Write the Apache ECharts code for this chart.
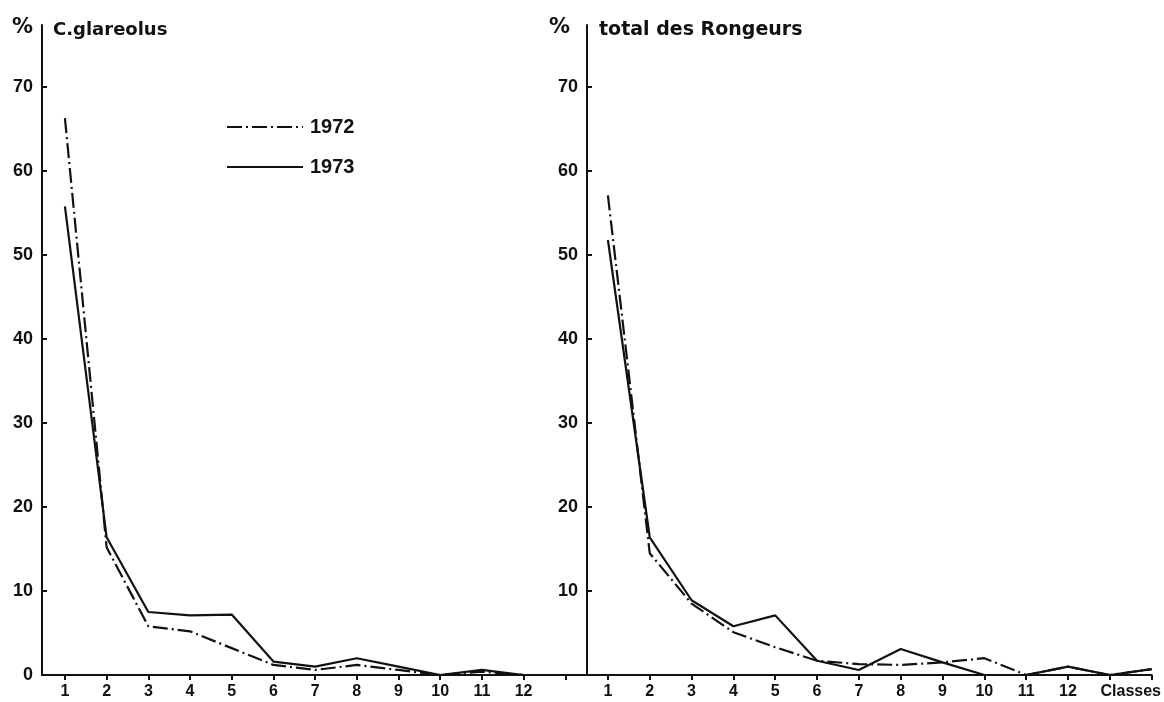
<!DOCTYPE html>
<html style="height: 100%">
<head>
	<meta charset="utf-8">
	<script src="https://cdn.jsdelivr.net/npm/echarts@6/dist/echarts.min.js"></script>
</head>
<body style="height: 100%; margin: 0; background: #fff">
	<div id="container" style="width: 1164px; height: 702px"></div>
	<script type="text/javascript">

var classesLeft = [1, 2, 3, 4, 5, 6, 7, 8, 9, 10, 11, 12];
var glareolus1972 = [66.3, 15.2, 5.8, 5.2, 3.2, 1.2, 0.6, 1.2, 0.6, 0, 0.4, 0];
var glareolus1973 = [55.8, 16.4, 7.5, 7.1, 7.2, 1.6, 1.0, 2.0, 1.0, 0, 0.6, 0];

var classesRight = [1, 2, 3, 4, 5, 6, 7, 8, 9, 10, 11, 12, 13, 14];
var rongeurs1972 = [57.1, 14.5, 8.5, 5.1, 3.3, 1.7, 1.3, 1.2, 1.5, 2.0, 0, 1.0, 0, 0.7];
var rongeurs1973 = [51.8, 16.4, 8.9, 5.8, 7.1, 1.7, 0.6, 3.1, 1.5, 0, 0, 1.0, 0, 0.7];

var yTicksLeft = [0, 10, 20, 30, 40, 50, 60, 70];
var yTicksRight = [10, 20, 30, 40, 50, 60, 70];
var xTicksLeft = [1, 2, 3, 4, 5, 6, 7, 8, 9, 10, 11, 12, 13];
var xLabelsLeft = [1, 2, 3, 4, 5, 6, 7, 8, 9, 10, 11, 12];
var xTicksRight = [1, 2, 3, 4, 5, 6, 7, 8, 9, 10, 11, 12, 13, 14];
var xLabelsRight = [1, 2, 3, 4, 5, 6, 7, 8, 9, 10, 11, 12, 13.5];
var classesLabel = 'Classes';
var years = ['1972', '1973'];

var ink = '#111';
var numFont = '"Liberation Sans", Arial, sans-serif';
var titleFont = '"DejaVu Sans", sans-serif';

function pairs(xs, ys) {
	var out = [], i;
	for (i = 0; i < xs.length; i++) {
		out.push([xs[i], ys[i]]);
	}
	return out;
}

function xAxis(gridIndex, min, max, ticks, labels) {
	return {
		type: 'value',
		gridIndex: gridIndex,
		min: min,
		max: max,
		axisLine: { lineStyle: { color: ink, width: 2 } },
		axisTick: { show: true, inside: false, length: 5, customValues: ticks, lineStyle: { color: ink, width: 2 } },
		axisLabel: {
			customValues: labels,
			margin: 9,
			color: ink,
			fontSize: 16,
			fontWeight: 'bold',
			fontFamily: numFont,
			formatter: function (v) {
				return v === 13.5 ? classesLabel : String(v);
			}
		},
		splitLine: { show: false }
	};
}

function yAxis(gridIndex, ticks) {
	return {
		type: 'value',
		gridIndex: gridIndex,
		min: 0,
		max: 77.4,
		axisLine: { show: true, lineStyle: { color: ink, width: 2 } },
		axisTick: { show: true, inside: true, length: 5, customValues: ticks, lineStyle: { color: ink, width: 2 } },
		axisLabel: {
			customValues: ticks,
			margin: 9,
			color: ink,
			fontSize: 18,
			fontWeight: 'bold',
			fontFamily: numFont
		},
		splitLine: { show: false }
	};
}

function line(name, idx, xs, ys) {
	return {
		name: name,
		type: 'line',
		xAxisIndex: idx,
		yAxisIndex: idx,
		data: pairs(xs, ys),
		symbol: 'none',
		animation: false,
		itemStyle: { color: ink },
		lineStyle: {
			color: ink,
			width: 2.2,
			// 1972 is drawn with long dashes and a dot between them
			type: name === '1972' ? [15, 4, 2, 4] : 'solid'
		}
	};
}

var option = {
	backgroundColor: '#fff',
	title: [
		{ text: '%', left: 12, top: 17, padding: 0, textStyle: { color: ink, fontSize: 21, fontWeight: 'bold', fontFamily: titleFont } },
		{ text: 'C.glareolus', left: 53, top: 21, padding: 0, textStyle: { color: ink, fontSize: 18, fontWeight: 'bold', fontFamily: titleFont } },
		{ text: '%', left: 549, top: 17, padding: 0, textStyle: { color: ink, fontSize: 21, fontWeight: 'bold', fontFamily: titleFont } },
		{ text: 'total des Rongeurs', left: 599, top: 21, padding: 0, textStyle: { color: ink, fontSize: 19, fontWeight: 'bold', fontFamily: titleFont } }
	],
	legend: {
		data: years,
		orient: 'vertical',
		left: 226,
		top: 117,
		padding: 0,
		itemWidth: 76,
		itemHeight: 20,
		itemGap: 20,
		itemStyle: { opacity: 0 },
		textStyle: { color: ink, fontSize: 20, fontWeight: 'bold', fontFamily: numFont, lineHeight: 20, padding: [0, 0, 0, 2] }
	},
	grid: [
		{ left: 42, top: 25, width: 545, bottom: 27 },
		{ left: 587, top: 25, right: 12, bottom: 27 }
	],
	xAxis: [
		xAxis(0, 0.45, 13.52, xTicksLeft, xLabelsLeft),
		xAxis(1, 0.5, 14, xTicksRight, xLabelsRight)
	],
	yAxis: [
		yAxis(0, yTicksLeft),
		yAxis(1, yTicksRight)
	],
	series: [
		line('1972', 0, classesLeft, glareolus1972),
		line('1973', 0, classesLeft, glareolus1973),
		line('1972', 1, classesRight, rongeurs1972),
		line('1973', 1, classesRight, rongeurs1973)
	]
};

var myChart = echarts.init(document.getElementById('container'));
myChart.setOption(option, true);
	</script>
</body>
</html>
